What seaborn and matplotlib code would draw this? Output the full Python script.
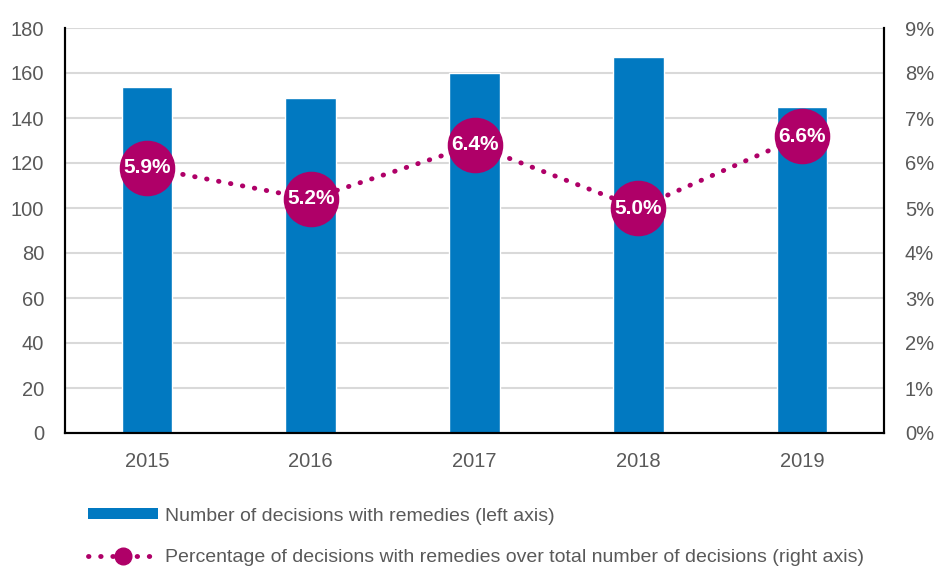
import matplotlib
matplotlib.use("Agg")
import matplotlib.pyplot as plt
from matplotlib.lines import Line2D
from matplotlib.patches import Patch
import seaborn as sns
import pandas as pd

years = ["2015", "2016", "2017", "2018", "2019"]
decisions_with_remedies = [154, 149, 160, 167, 145]
remedy_share_pct = [5.9, 5.2, 6.4, 5.0, 6.6]
left_ticks = [0, 20, 40, 60, 80, 100, 120, 140, 160, 180]
right_ticks = [0, 1, 2, 3, 4, 5, 6, 7, 8, 9]
bar_label = "Number of decisions with remedies (left axis)"
line_label = "Percentage of decisions with remedies over total number of decisions (right axis)"

BLUE = "#0179C1"
MAGENTA = "#AF0068"
TEXT = "#595959"
DOTS = (0, (0.1, 2.4))

sns.set_style("white")
plt.rcParams["font.family"] = ["Liberation Sans", "DejaVu Sans"]

df = pd.DataFrame({"year": years, "count": decisions_with_remedies, "pct": remedy_share_pct})
df["pos"] = range(len(df))

fig = plt.figure(figsize=(9.35, 5.68), dpi=100)
ax = fig.add_axes([65 / 935, 1 - 433 / 568, (884 - 65) / 935, (433 - 28) / 568])

sns.barplot(data=df, x="year", y="count", color=BLUE, width=0.31, saturation=1,
            ax=ax, zorder=2)
ax.set_ylim(0, 180)
ax.set_yticks(left_ticks)
ax.set_xlim(-0.5, len(years) - 0.5)
ax.yaxis.grid(True, color="#D9D9D9", linewidth=1.5, zorder=0)
ax.set_axisbelow(True)
ax.set_xlabel("")
ax.set_ylabel("")
ax.spines["top"].set_visible(False)
for s in ["left", "bottom", "right"]:
    ax.spines[s].set_color("black")
    ax.spines[s].set_linewidth(1.5)
ax.tick_params(axis="both", length=0, labelsize=14.5, labelcolor=TEXT)
ax.tick_params(axis="y", pad=15)
ax.tick_params(axis="x", pad=14)

ax2 = ax.twinx()
sns.lineplot(data=df, x="pos", y="pct", ax=ax2, color=MAGENTA, linewidth=3.5,
             linestyle=DOTS, dash_capstyle="round", zorder=3)
ax2.plot(df["pos"], df["pct"], linestyle="none", marker="o", markersize=39,
         color=MAGENTA, zorder=4)
for x, v in zip(df["pos"], df["pct"]):
    ax2.text(x, v, f"{v:.1f}%", ha="center", va="center", color="white",
             fontsize=15, fontweight="bold", zorder=5)
ax2.set_ylim(0, 9)
ax2.set_yticks(right_ticks)
ax2.set_yticklabels([f"{t}%" for t in right_ticks])
ax2.set_xlabel("")
ax2.set_ylabel("")
ax2.spines["top"].set_visible(False)
for s in ["left", "bottom", "right"]:
    ax2.spines[s].set_color("black")
    ax2.spines[s].set_linewidth(1.5)
ax2.tick_params(axis="y", length=0, labelsize=14.5, labelcolor=TEXT, pad=15)
ax2.set_xlim(-0.5, len(years) - 0.5)

handles = [
    Patch(facecolor=BLUE, edgecolor="none", label=bar_label),
    Line2D([], [], color=MAGENTA, linewidth=3.5, linestyle=DOTS,
           dash_capstyle="round", marker="o", markersize=12, label=line_label),
]
fig.legend(handles=handles, loc="upper left", bbox_to_anchor=(80 / 935, 1 - 500 / 568),
           frameon=False, fontsize=14, labelcolor=TEXT, handlelength=3.6,
           handleheight=0.5, handletextpad=0.35, labelspacing=1.25, numpoints=1,
           borderaxespad=0)

fig.savefig("out.png", dpi=100)
